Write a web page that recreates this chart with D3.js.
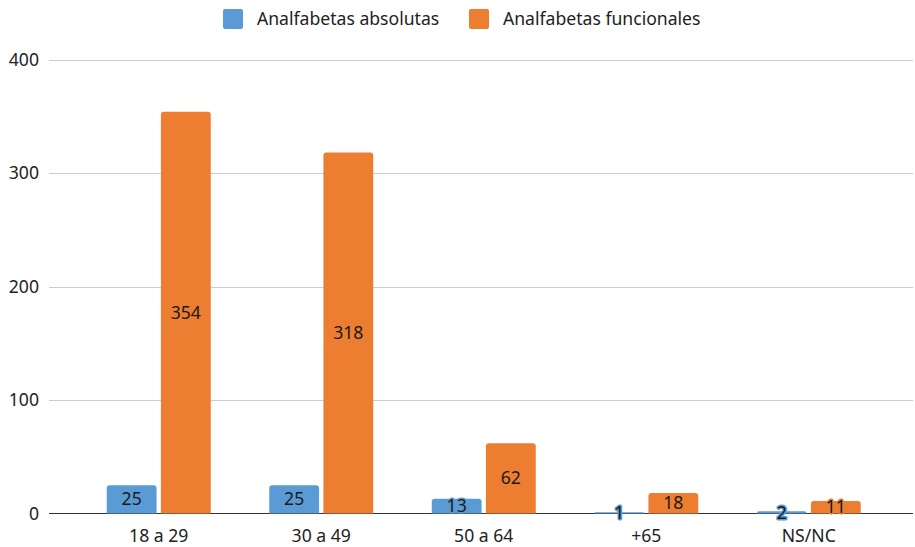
<!DOCTYPE html>
<html>
<head>
<meta charset="utf-8">
<script src="https://cdn.jsdelivr.net/npm/d3@7"></script>
<style>
  html, body { margin: 0; padding: 0; background: #fff; }
  svg { display: block; font-family: "Noto Sans", "Open Sans", sans-serif; }
</style>
</head>
<body>
<svg id="chart" width="915" height="547"></svg>
<script>
// Age groups and counts per type of illiteracy
const categories = ["18 a 29", "30 a 49", "50 a 64", "+65", "NS/NC"];
const absolutas = [25, 25, 13, 1, 2];
const funcionales = [354, 318, 62, 18, 11];
const seriesNames = ["Analfabetas absolutas", "Analfabetas funcionales"];
const seriesColors = ["#5B9BD5", "#ED7D31"];
const yTicks = [0, 100, 200, 300, 400];

const series = [absolutas, funcionales];
const svg = d3.select("#chart");
const fontSize = 17.6;

const gridLeft = 49, gridRight = 913;
const x = d3.scaleBand().domain(categories).range([77.5, 890]);
const sub = d3.scaleBand().domain([0, 1]).range([0, 104]).paddingInner(0.08);
const y = d3.scaleLinear().domain([0, 400]).range([513.5, 59.5]);

// gridlines
svg.append("g").selectAll("line")
  .data(yTicks.filter(t => t > 0))
  .join("line")
  .attr("x1", gridLeft).attr("x2", gridRight)
  .attr("y1", d => Math.round(y(d)) + 0.5).attr("y2", d => Math.round(y(d)) + 0.5)
  .attr("stroke", "#cccccc").attr("stroke-width", 1);

// y axis labels
const yAxis = d3.axisLeft(y).tickValues(yTicks).tickSize(0).tickPadding(0);
const yg = svg.append("g").attr("transform", "translate(39,0)").call(yAxis);
yg.select(".domain").remove();
yg.selectAll("text").attr("font-size", fontSize).attr("fill", "#222")
  .attr("font-family", "'Noto Sans', sans-serif").attr("dy", "0.34em");

// baseline
svg.append("line")
  .attr("x1", gridLeft).attr("x2", gridRight)
  .attr("y1", y(0)).attr("y2", y(0))
  .attr("stroke", "#333").attr("stroke-width", 1.2);

// rounded-top bar path
function barPath(x0, w, yTop, yBase, r) {
  const h = yBase - yTop;
  r = Math.min(r, h, w / 2);
  return `M${x0},${yBase}V${yTop + r}Q${x0},${yTop} ${x0 + r},${yTop}` +
         `H${x0 + w - r}Q${x0 + w},${yTop} ${x0 + w},${yTop + r}V${yBase}Z`;
}

const bandOffset = (x.bandwidth() - sub.range()[1]) / 2;
const groups = svg.append("g").selectAll("g")
  .data(categories)
  .join("g")
  .attr("transform", d => `translate(${x(d) + bandOffset},0)`);

const barData = (c, i) => series.map((s, k) => ({ k, v: s[i] }));

groups.each(function (c, i) {
  const g = d3.select(this);
  const bars = barData(c, i);
  g.selectAll("path").data(bars).join("path")
    .attr("d", d => barPath(sub(d.k), sub.bandwidth(), y(d.v), y(0), 3))
    .attr("fill", d => seriesColors[d.k]);
  g.selectAll("text").data(bars).join("text")
    .attr("x", d => sub(d.k) + sub.bandwidth() / 2)
    .attr("y", d => (y(d.v) + y(0)) / 2)
    .attr("dy", "0.35em")
    .attr("text-anchor", "middle")
    .attr("font-size", fontSize)
    .attr("fill", "#1a1a1a")
    .attr("stroke", d => seriesColors[d.k])
    .attr("stroke-width", 3)
    .attr("stroke-linejoin", "round")
    .attr("paint-order", "stroke")
    .text(d => d.v);
});

// category axis labels
const xAxis = d3.axisBottom(x).tickSize(0).tickPadding(0);
const xg = svg.append("g").attr("transform", "translate(0,529)").call(xAxis);
xg.select(".domain").remove();
xg.selectAll("text").attr("font-size", fontSize).attr("fill", "#222")
  .attr("font-family", "'Noto Sans', sans-serif").attr("dy", "0.71em");

// legend
const legendX = [223, 469];
const legend = svg.append("g").selectAll("g")
  .data(seriesNames)
  .join("g")
  .attr("transform", (d, i) => `translate(${legendX[i]},9)`);
legend.append("rect")
  .attr("width", 20).attr("height", 20).attr("rx", 2)
  .attr("fill", (d, i) => seriesColors[i]);
legend.append("text")
  .attr("x", 34).attr("y", 10).attr("dy", "0.35em")
  .attr("font-size", fontSize).attr("fill", "#222")
  .text(d => d);
</script>
</body>
</html>
